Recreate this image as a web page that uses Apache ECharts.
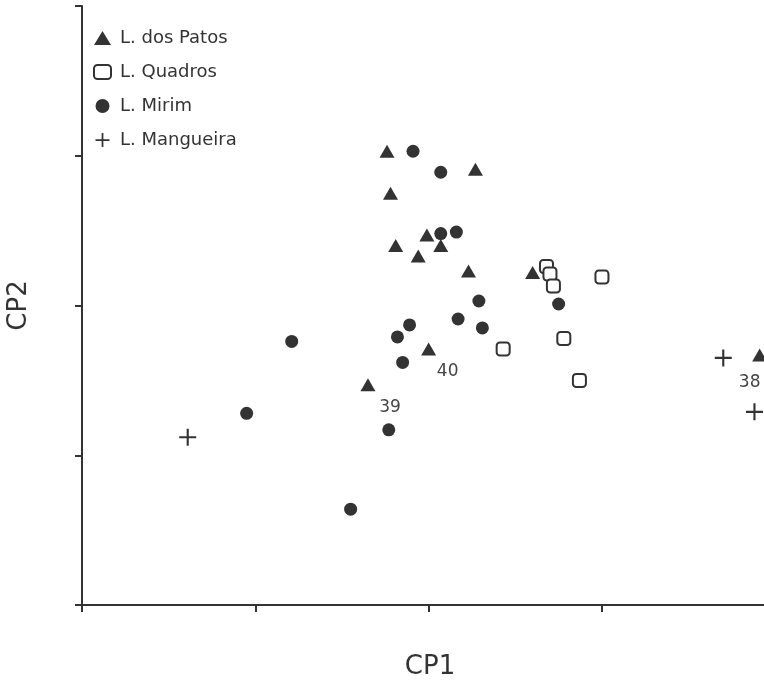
<!DOCTYPE html>
<html>
<head>
<meta charset="utf-8">
<script src="https://cdn.jsdelivr.net/npm/echarts@6/dist/echarts.min.js"></script>
<style>
html,body{margin:0;padding:0;background:#fff;}
#chart{width:764px;height:682px;}
</style>
</head>
<body>
<div id="chart"></div>
<script>
// Data (CP1, CP2)
const patos = [
  [1.76, 3.03], [1.78, 2.75], [2.27, 2.91], [1.81, 2.40], [1.99, 2.47],
  [2.07, 2.40], [1.94, 2.33], [2.23, 2.23], [2.60, 2.22], [2.00, 1.71],
  [1.65, 1.47], [3.91, 1.67]
];
const patosLabels = ['', '', '', '', '', '', '', '', '', '40', '39', '38'];
const quadros = [
  [2.68, 2.26], [2.70, 2.21], [2.72, 2.13], [3.00, 2.19], [2.43, 1.71],
  [2.78, 1.78], [2.87, 1.50]
];
const mirim = [
  [1.91, 3.03], [2.07, 2.89], [2.07, 2.48], [2.16, 2.49], [2.29, 2.03],
  [2.75, 2.01], [2.17, 1.91], [2.31, 1.85], [1.89, 1.87], [1.82, 1.79],
  [1.85, 1.62], [1.21, 1.76], [0.95, 1.28], [1.77, 1.17], [1.55, 0.64]
];
const mangueira = [
  [0.61, 1.12], [3.70, 1.65], [3.88, 1.29]
];
const xTicks = [0, 1, 2, 3];
const yTicks = [0, 1, 2, 3, 4];
const seriesNames = ['L. dos Patos', 'L. Quadros', 'L. Mirim', 'L. Mangueira'];
const axisNames = ['CP1', 'CP2'];

const ink = '#333333';
const font = 'DejaVu Sans';
const crossPath = 'path://M7,0H9V7H16V9H9V16H7V9H0V7H7Z';
// visible part of the CP1 axis (the frame runs past the right edge)
const xMax = 3.935;

const labelOffsets = {'40': [19, 23], '39': [22, 23], '38': [-10, 28]};

const patosData = patos.map((p, i) => {
  const item = {value: p};
  const t = patosLabels[i];
  if (t) {
    item.label = {
      show: true, formatter: t, position: 'inside', offset: labelOffsets[t],
      color: '#444', fontSize: 17, fontFamily: font
    };
  }
  return item;
});

const chart = echarts.init(document.getElementById('chart'), null, {renderer: 'canvas'});
chart.setOption({
  backgroundColor: '#ffffff',
  animation: false,
  grid: {left: 82, top: 6, bottom: 77, right: 0, outerBoundsMode: 'none', containLabel: false},
  legend: {
    orient: 'vertical', left: 93, top: 29, padding: 0,
    itemWidth: 17, itemHeight: 14, itemGap: 16,
    textStyle: {color: ink, fontSize: 18, fontFamily: font, padding: [0, 0, 0, 4]},
    data: seriesNames
  },
  xAxis: [{
    type: 'value', min: 0, max: xMax,
    name: axisNames[0], nameLocation: 'middle', nameGap: 49,
    nameTextStyle: {color: ink, fontSize: 26, fontFamily: font, padding: [0, 0, 0, 14]},
    axisLine: {show: true, onZero: false, lineStyle: {color: ink, width: 2}},
    axisTick: {show: true, length: 7, customValues: xTicks, lineStyle: {color: ink, width: 2}},
    axisLabel: {show: false}, splitLine: {show: false}
  }, {
    type: 'value', min: 0, max: xMax, position: 'top',
    axisLine: {show: true, lineStyle: {color: ink, width: 2}},
    axisTick: {show: false}, axisLabel: {show: false}, splitLine: {show: false}
  }],
  yAxis: {
    type: 'value', min: 0, max: 4, interval: 1,
    name: axisNames[1], nameLocation: 'middle', nameGap: 50, nameRotate: 90,
    nameTextStyle: {color: ink, fontSize: 26, fontFamily: font},
    axisLine: {show: true, onZero: false, lineStyle: {color: ink, width: 2}},
    axisTick: {show: true, length: 7, customValues: yTicks, lineStyle: {color: ink, width: 2}},
    axisLabel: {show: false}, splitLine: {show: false}
  },
  series: [{
    name: seriesNames[0], type: 'scatter', symbol: 'triangle', symbolSize: [15, 13],
    itemStyle: {color: ink, opacity: 1}, data: patosData, z: 3
  }, {
    name: seriesNames[1], type: 'scatter', symbol: 'roundRect', symbolSize: 13,
    itemStyle: {color: '#ffffff', borderColor: ink, borderWidth: 2, opacity: 1}, data: quadros, z: 2
  }, {
    name: seriesNames[2], type: 'scatter', symbol: 'circle', symbolSize: 13,
    itemStyle: {color: ink, opacity: 1}, data: mirim, z: 4
  }, {
    name: seriesNames[3], type: 'scatter', symbol: crossPath, symbolSize: 17,
    itemStyle: {color: ink, opacity: 1}, data: mangueira, z: 3
  }]
});
</script>
</body>
</html>
